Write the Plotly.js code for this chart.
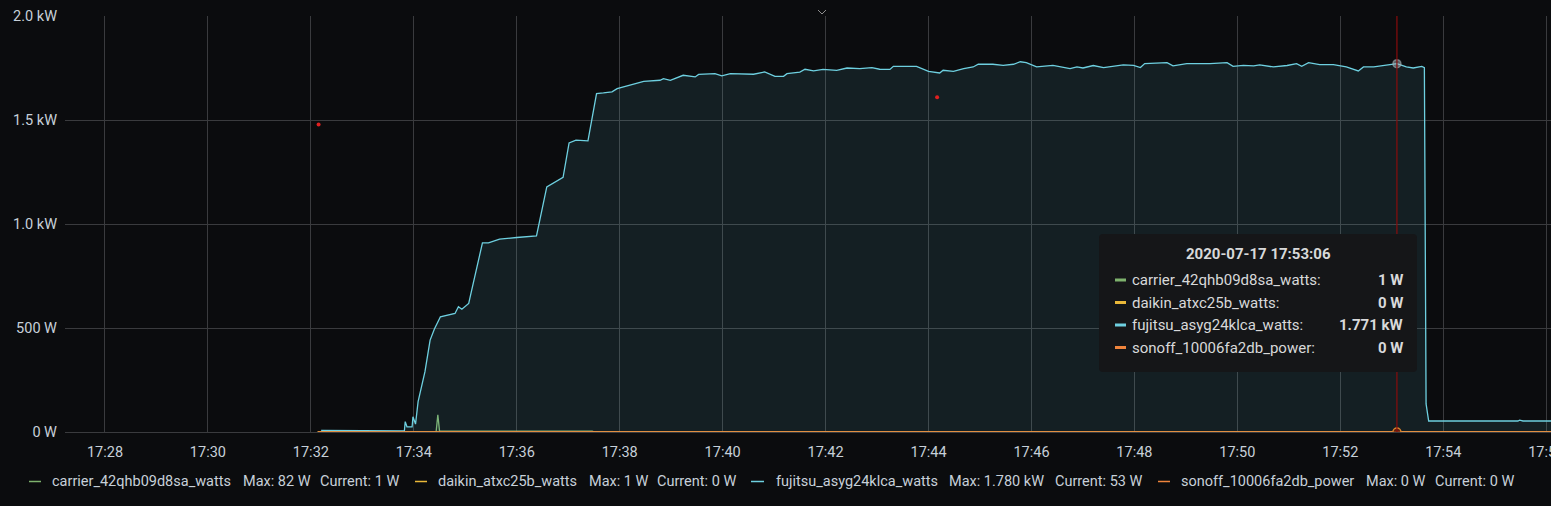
<!DOCTYPE html>
<html>
<head>
<meta charset="utf-8">
<script src="https://cdn.plot.ly/plotly-3.0.1.min.js"></script>
<style>
html,body{margin:0;padding:0;background:#0b0c0e;}
#chart{width:1551px;height:506px;}
</style>
</head>
<body>
<div id="chart"></div>
<script>
const day = '2020-07-17 ';
const seriesNames = ['carrier_42qhb09d8sa_watts','daikin_atxc25b_watts','fujitsu_asyg24klca_watts','sonoff_10006fa2db_power'];
const seriesColors = ['#7eb26d','#eab839','#6ed0e0','#ef843c'];
const seriesFills = ['rgba(126,178,109,0.1)','rgba(234,184,57,0.1)','rgba(110,208,224,0.1)','rgba(239,132,60,0.1)'];
const legendMax = ['82 W','1 W','1.780 kW','0 W'];
const legendCurrent = ['1 W','0 W','53 W','0 W'];
const tooltipTime = '2020-07-17 17:53:06';
const tooltipValues = ['1 W','0 W','1.771 kW','0 W'];

const carrierTime = ['17:32:08','17:34:26','17:34:28','17:34:30','17:37:28','17:37:30','17:56:06'];
const carrierWatts = [1,1,82,4,4,1,1];
const daikinTime = ['17:32:08','17:40:00','17:40:10','17:40:20','17:56:06'];
const daikinWatts = [0,0,1,0,0];
const sonoffTime = ['17:32:08','17:56:06'];
const sonoffWatts = [0,0];
const fujitsuTime = ['17:32:12','17:32:55','17:32:57','17:33:49','17:33:50','17:33:52','17:33:58','17:33:59','17:34:02','17:34:05',
'17:34:13','17:34:19','17:34:24','17:34:31','17:34:48','17:34:52','17:34:56','17:35:04','17:35:07','17:35:13',
'17:35:20','17:35:27','17:35:40','17:36:00','17:36:23','17:36:35','17:36:54','17:37:01','17:37:09','17:37:23',
'17:37:33','17:37:41','17:37:51','17:37:57','17:38:12','17:38:28','17:38:47','17:38:51','17:38:59','17:39:14',
'17:39:28','17:39:32','17:39:51','17:39:59','17:40:09','17:40:24','17:40:36','17:40:49','17:41:01','17:41:11',
'17:41:15','17:41:30','17:41:36','17:41:46','17:41:57','17:42:13','17:42:25','17:42:40','17:42:54','17:43:03',
'17:43:15','17:43:19','17:43:35','17:43:46','17:44:00','17:44:13','17:44:17','17:44:29','17:44:41','17:44:52',
'17:44:58','17:45:15','17:45:27','17:45:39','17:45:47','17:45:54','17:46:06','17:46:25','17:46:45','17:46:53',
'17:47:00','17:47:12','17:47:24','17:47:47','17:47:59','17:48:07','17:48:12','17:48:38','17:48:45','17:49:01',
'17:49:28','17:49:48','17:49:55','17:50:07','17:50:19','17:50:26','17:50:42','17:50:58','17:51:09','17:51:15',
'17:51:23','17:51:36','17:51:52','17:52:07','17:52:21','17:52:27','17:52:39','17:52:50','17:53:06','17:53:17',
'17:53:25','17:53:35','17:53:38','17:53:40','17:53:43','17:55:27','17:55:29','17:55:33','17:56:06'];
const fujitsuWatts = [8,8,5,5,50,25,25,73,38,146,
290,442,495,554,570,602,590,618,674,778,
909,909,927,935,943,1178,1224,1390,1403,1400,
1627,1630,1635,1651,1667,1686,1691,1699,1691,1715,
1707,1719,1723,1712,1723,1723,1720,1731,1710,1710,
1723,1730,1744,1736,1743,1739,1750,1747,1752,1744,
1743,1758,1760,1758,1734,1726,1739,1734,1747,1755,
1768,1768,1763,1768,1780,1776,1755,1763,1747,1755,
1750,1762,1752,1765,1763,1752,1771,1776,1760,1771,
1771,1776,1758,1763,1760,1765,1755,1762,1771,1758,
1776,1766,1766,1755,1736,1755,1755,1763,1771,1755,
1750,1758,1752,135,53,53,57,53,53];

const redDotTime = ['17:32:09','17:44:10'];
const redDotWatts = [1478,1609];
const hoverWatts = [1771, 0];

const yTickVals = [0,500,1000,1500,2000];
const yTickText = ['0 W','500 W','1.0 kW','1.5 kW','2.0 kW'];

// ---- geometry helpers (pixel -> paper) ----
const L = 65, T = 16, PW = 1486, PH = 416;
function px(x){ return (x - L) / PW; }
function py(y){ return (T + PH - y) / PH; }
const withDay = arr => arr.map(t => day + t);

const seriesTimes = [carrierTime, daikinTime, fujitsuTime, sonoffTime];
const seriesValues = [carrierWatts, daikinWatts, fujitsuWatts, sonoffWatts];

const traces = seriesNames.map((n, i) => ({
  type: 'scatter', mode: 'lines', name: n,
  x: withDay(seriesTimes[i]), y: seriesValues[i],
  line: {color: seriesColors[i], width: 1.3, shape: 'linear'},
  fill: 'tozeroy', fillcolor: seriesFills[i],
  hoverinfo: 'skip', showlegend: false
}));

traces.push({
  type: 'scatter', mode: 'markers', x: withDay(redDotTime), y: redDotWatts,
  marker: {color: '#e02020', size: 4}, hoverinfo: 'skip', showlegend: false
});
traces.push({
  type: 'scatter', mode: 'markers', x: [tooltipTime, tooltipTime], y: hoverWatts,
  marker: {color: ['rgba(170,180,185,0.5)','rgba(110,30,10,0.8)'], size: 8,
           line: {color: ['rgba(170,180,185,0.55)','#d9822b'], width: 1.5}},
  hoverinfo: 'skip', showlegend: false
});

const shapes = [];
// crosshair
shapes.push({type:'line', xref:'x', yref:'paper', x0:tooltipTime, x1:tooltipTime, y0:0, y1:1,
  line:{color:'#8a0c0c', width:1.2}, layer:'above'});
// tooltip box (rounded)
shapes.push({type:'path', xref:'paper', yref:'paper', xsizemode:'pixel', ysizemode:'pixel',
  xanchor: px(1099), yanchor: py(372),
  path:'M4,0 L314,0 Q318,0 318,4 L318,134 Q318,138 314,138 L4,138 Q0,138 0,134 L0,4 Q0,0 4,0 Z',
  fillcolor:'#151618', line:{width:0}, layer:'above'});
// chevron at top
shapes.push({type:'path', xref:'paper', yref:'paper', xsizemode:'pixel', ysizemode:'pixel',
  xanchor: px(822), yanchor: 1, path:'M-4,6 L0,2 L4,6', line:{color:'#8e8e8e', width:1}, layer:'above'});

const annotations = [];
annotations.push({xref:'paper', yref:'paper', x:px(1258), y:py(253.5), xanchor:'center', yanchor:'middle',
  text:'<b>' + tooltipTime + '</b>', showarrow:false, font:{size:15, color:'#d8d9da'}});
const rowY = [280, 302.5, 325, 347.5];
const legendDash = [[29,41],[415,427],[751,764],[1158,1170]];
const legendNameX = [50,436,774,1179];
const legendMaxX = [241,587,947,1364];
const legendCurX = [318,655,1053,1433];
const legendY = 481.5;
seriesNames.forEach((n, i) => {
  // tooltip row
  shapes.push({type:'line', xref:'paper', yref:'paper', x0:px(1115), x1:px(1126), y0:py(rowY[i]), y1:py(rowY[i]),
    line:{color:seriesColors[i], width:3}, layer:'above'});
  annotations.push({xref:'paper', yref:'paper', x:px(1130), y:py(rowY[i]), xanchor:'left', yanchor:'middle',
    text:n + ':', showarrow:false, font:{size:15, color:'#d8d9da'}});
  annotations.push({xref:'paper', yref:'paper', x:px(1405), y:py(rowY[i]), xanchor:'right', yanchor:'middle',
    text:'<b>' + tooltipValues[i] + '</b>', showarrow:false, font:{size:15, color:'#d8d9da'}});
  // bottom legend
  shapes.push({type:'line', xref:'paper', yref:'paper', x0:px(legendDash[i][0]), x1:px(legendDash[i][1]),
    y0:py(legendY), y1:py(legendY), line:{color:seriesColors[i], width:1.5}, layer:'above'});
  annotations.push({xref:'paper', yref:'paper', x:px(legendNameX[i]), y:py(legendY), xanchor:'left', yanchor:'middle',
    text:n, showarrow:false, font:{size:14.5, color:'#c7d0d9'}});
  annotations.push({xref:'paper', yref:'paper', x:px(legendMaxX[i]), y:py(legendY), xanchor:'left', yanchor:'middle',
    text:'Max: ' + legendMax[i], showarrow:false, font:{size:14.5, color:'#c7d0d9'}});
  annotations.push({xref:'paper', yref:'paper', x:px(legendCurX[i]), y:py(legendY), xanchor:'left', yanchor:'middle',
    text:'Current: ' + legendCurrent[i], showarrow:false, font:{size:14.5, color:'#c7d0d9'}});
});

const gridColor = '#3a3b3e';
const layout = {
  width:1551, height:506,
  margin:{l:65, r:0, t:16, b:74, pad:0},
  paper_bgcolor:'#0b0c0e', plot_bgcolor:'#0b0c0e',
  font:{family:'Roboto, "Open Sans", sans-serif', color:'#c7d0d9', size:14.5},
  showlegend:false, hovermode:false,
  xaxis:{type:'date', range:[day + '17:27:13.4', day + '17:56:05.6'],
    tick0: day + '17:28:00', dtick:120000, tickformat:'%H:%M',
    showgrid:true, gridcolor:gridColor, gridwidth:1, zeroline:false, showline:false,
    ticks:'', ticklabelstandoff:9, ticklabeloverflow:'allow',
    tickfont:{size:14.5, color:'#c7d0d9'}, fixedrange:true},
  yaxis:{range:[0,2000], tickmode:'array', tickvals:yTickVals, ticktext:yTickText,
    showgrid:true, gridcolor:gridColor, gridwidth:1, zeroline:true, zerolinecolor:gridColor, zerolinewidth:1,
    showline:false, ticks:'', ticklabelstandoff:7, tickfont:{size:14.5, color:'#c7d0d9'}, fixedrange:true},
  shapes: shapes,
  annotations: annotations
};

Plotly.newPlot('chart', traces, layout, {displayModeBar:false, staticPlot:true});
</script>
</body>
</html>
